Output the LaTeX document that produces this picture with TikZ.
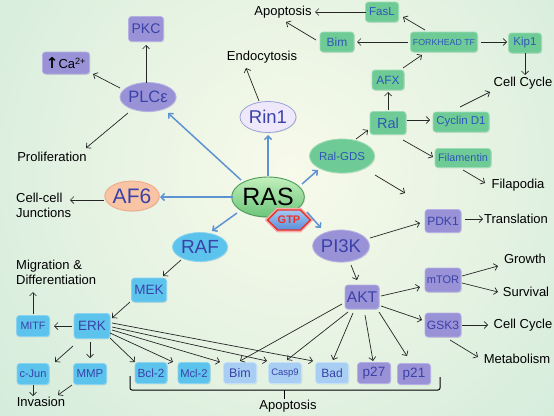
\documentclass[tikz,border=0pt]{standalone}
\usepackage{fontspec}
\setmainfont{Liberation Sans}
\newfontfamily\dvsfont{DejaVu Sans}
\usetikzlibrary{arrows.meta,shapes.geometric,shapes.symbols,calc,shadows}
\definecolor{bgin}{HTML}{F8FAEA}
\definecolor{bgout}{HTML}{B4DFCE}
\definecolor{pfill}{HTML}{9A92D6}
\definecolor{pline}{HTML}{B6B0E6}
\definecolor{txt}{HTML}{3A42A8}
\definecolor{cfill}{HTML}{5CC4EC}
\definecolor{cline}{HTML}{8AD4F0}
\definecolor{lfill}{HTML}{A8CEF3}
\definecolor{lline}{HTML}{C6E0F8}
\definecolor{gfill}{HTML}{6FCB95}
\definecolor{gline}{HTML}{9CDDB6}
\definecolor{gtxt}{HTML}{2E56B8}
\definecolor{rinfill}{HTML}{EEE8FA}
\definecolor{rinline}{HTML}{9AA2DC}
\definecolor{affill}{HTML}{F8C4A4}
\definecolor{afline}{HTML}{EFA888}
\definecolor{ablue}{HTML}{5E93D2}
\definecolor{rastop}{HTML}{C2EFBC}
\definecolor{rasbot}{HTML}{6CC57A}
\definecolor{rasline}{HTML}{4E9A5A}
\definecolor{gtptop}{HTML}{A4C8F2}
\definecolor{gtpbot}{HTML}{5A8FD8}
\definecolor{gtpred}{HTML}{E8322A}
\tikzset{
  fz/.style={font=\fontsize{#1}{#1}\selectfont},
  box/.style={rectangle, rounded corners=3pt, inner sep=0pt, line width=0.8pt, text=txt,
    drop shadow={opacity=0.22, shadow xshift=0.8pt, shadow yshift=-0.8pt}},
  pbox/.style={box, fill=pfill, draw=pline},
  cbox/.style={box, fill=cfill, draw=cline},
  lbox/.style={box, fill=lfill, draw=lline},
  gbox/.style={box, fill=gfill, draw=gline, text=gtxt},
  oval/.style={ellipse, inner sep=0pt, line width=0.8pt, text=txt,
    drop shadow={opacity=0.18, shadow xshift=0.8pt, shadow yshift=-0.8pt}},
  lab/.style={inner sep=0pt, text=black, fz=13},
  arr/.style={-{Straight Barb[length=3.5pt,width=7pt]}, line width=0.7pt, draw=black!85},
  barr/.style={-{Straight Barb[length=3.5pt,width=7pt]}, line width=1.5pt, draw=ablue},
}
\begin{document}
\begin{tikzpicture}[x=1pt,y=-1pt]
\useasboundingbox (0,0) rectangle (554,415);
\begin{scope}
\clip (0,0) rectangle (554,415);
\shade[inner color=bgin, outer color=bgout] (290,170) circle (720);
\end{scope}

% ---------- PLC branch ----------
\node[pbox, minimum width=35pt, minimum height=25pt, fz=14] (pkc) at (146,29) {PKC};
\node[pbox, minimum width=47pt, minimum height=22pt, fz=13, text=black] (ca) at (66,63) {{\dvsfont\bfseries\fontsize{15}{15}\selectfont ↑}Ca\textsuperscript{2+}};
\node[oval, fill=pfill, draw=pline, minimum width=56pt, minimum height=29pt, fz=16.5] (plc) at (148,97) {PLCε};
\node[lab] (prolif) at (52,157) {Proliferation};

% ---------- Rin1 / AF6 ----------
\node[oval, fill=rinfill, draw=rinline, minimum width=56pt, minimum height=31pt, fz=18.5] (rin) at (268,117) {Rin1};
\node[lab] (endo) at (262,57) {Endocytosis};
\node[oval, fill=affill, draw=afline, minimum width=52pt, minimum height=30pt, fz=21] (af6) at (132,196) {AF6};
\node[lab, anchor=west, align=left, font=\fontsize{13}{15}\selectfont] (junc) at (16,205) {Cell-cell\\Junctions};

% ---------- RAS ----------
\node[ellipse, inner sep=0pt, minimum width=69pt, minimum height=40pt, top color=rastop, bottom color=rasbot, draw=rasline, line width=0.9pt, fz=25, text=black,
  drop shadow={opacity=0.2, shadow xshift=1pt, shadow yshift=-1pt}] (ras) at (268,197) {RAS};
\node[signal, signal to=west and east, inner sep=0pt, minimum width=34pt, minimum height=20pt,
  top color=gtptop, bottom color=gtpbot, draw=gtpred, line width=1.4pt, text=gtpred, fz=11,
  preaction={draw=gtpred!40, line width=4.5pt}] (gtp) at (289,220) {\textbf{GTP}};

% ---------- Ral branch ----------
\node[oval, fill=gfill, draw=gline, text=gtxt, minimum width=56pt, minimum height=34pt, fz=11.5] (ralgds) at (342,156) {Ral-GDS};
\node[gbox, minimum width=36pt, minimum height=23pt, fz=14.5] (ral) at (388,123) {Ral};
\node[gbox, minimum width=32pt, minimum height=20pt, fz=12] (afx) at (388,80) {AFX};
\node[gbox, minimum width=67pt, minimum height=20pt, fz=8.8] (fork) at (444,42) {FORKHEAD TF};
\node[gbox, minimum width=34pt, minimum height=20pt, fz=12] (bimt) at (337,42) {Bim};
\node[gbox, minimum width=33pt, minimum height=20pt, fz=11.5] (fasl) at (382,12) {FasL};
\node[lab] (apopt) at (283,12) {Apoptosis};
\node[gbox, minimum width=33pt, minimum height=20pt, fz=11.5] (kip) at (525,43) {Kip1};
\node[lab] (cc1) at (523,83) {Cell Cycle};
\node[gbox, minimum width=56pt, minimum height=20pt, fz=11.5] (cyc) at (461,122) {Cyclin D1};
\node[gbox, minimum width=56pt, minimum height=19pt, fz=10.8] (fil) at (463,158) {Filamentin};
\node[lab] (filap) at (518,185) {Filapodia};
\coordinate (ralfree) at (405,193);

% ---------- PI3K branch ----------
\node[pbox, minimum width=36pt, minimum height=23pt, fz=12] (pdk) at (443,221) {PDK1};
\node[lab] (transl) at (516,219) {Translation};
\node[oval, fill=pfill, draw=pline, minimum width=56pt, minimum height=32pt, fz=18.5] (pi3k) at (341,246) {PI3K};
\node[pbox, minimum width=34pt, minimum height=24pt, fz=15.5] (akt) at (362,297) {AKT};
\node[pbox, minimum width=36pt, minimum height=24pt, fz=11] (mtor) at (443,280) {mTOR};
\node[lab] (growth) at (525,259) {Growth};
\node[lab] (surv) at (526,292) {Survival};
\node[pbox, minimum width=36pt, minimum height=24pt, fz=12] (gsk) at (443,325) {GSK3};
\node[lab] (cc2) at (523,325) {Cell Cycle};
\node[lab] (metab) at (517,359) {Metabolism};

% ---------- bottom row ----------
\node[cbox, minimum width=32pt, minimum height=21pt, fz=11.8] (bcl) at (151,373) {Bcl-2};
\node[cbox, minimum width=32pt, minimum height=21pt, fz=11.2] (mcl) at (194,373) {Mcl-2};
\node[lbox, minimum width=33pt, minimum height=21pt, fz=12.5] (bimb) at (240,373) {Bim};
\node[lbox, minimum width=33pt, minimum height=21pt, fz=9.5] (casp) at (285,373) {Casp9};
\node[lbox, minimum width=33pt, minimum height=21pt, fz=12] (bad) at (332,373) {Bad};
\node[pbox, minimum width=33pt, minimum height=21pt, fz=13.5] (p27) at (374,373) {p27};
\node[pbox, minimum width=33pt, minimum height=21pt, fz=13.5] (p21) at (414,374) {p21};
\node[lab] (apopb) at (288,406) {Apoptosis};

% ---------- RAF branch ----------
\node[oval, fill=cfill, draw=cline, minimum width=55pt, minimum height=29pt, fz=19] (raf) at (200,247) {RAF};
\node[cbox, minimum width=35pt, minimum height=24pt, fz=13.5] (mek) at (149,290) {MEK};
\node[cbox, minimum width=36pt, minimum height=25pt, fz=13.5] (erk) at (92,326) {ERK};
\node[cbox, minimum width=33pt, minimum height=21pt, fz=10.7] (mitf) at (33,326) {MITF};
\node[lab, anchor=west, align=left, font=\fontsize{13}{15}\selectfont] (migr) at (16,272) {Migration \&\\Differentiation};
\node[cbox, minimum width=32pt, minimum height=21pt, fz=11] (cjun) at (33,374) {c-Jun};
\node[cbox, minimum width=33pt, minimum height=21pt, fz=11.5] (mmp) at (90,374) {MMP};
\node[lab] (inv) at (41,402) {Invasion};

% ---------- bracket ----------
\draw[line width=1pt, rounded corners=2pt] (130,376) -- (130,390) -- (440,390) -- (440,377);
\draw[line width=1pt] (284,390) -- (284,399);

% ---------- blue arrows from RAS ----------
\draw[barr] ($(ras)+(-27,-17)$) -- ($(plc)+(20,16)$);
\draw[barr] ($(ras)+(0,-21)$) -- ($(rin)+(0,18)$);
\draw[barr] ($(ras)+(-35,0)$) -- ($(af6)+(28,1)$);
\draw[barr] ($(ras)+(-31,16)$) -- ($(raf)+(12,-16)$);
\draw[barr] ($(ras)+(34,-13)$) -- ($(ralgds)+(-24,14)$);
\draw[barr] ($(ras)+(39,15)$) -- ($(pi3k)+(-20,-18)$);

% ---------- thin arrows ----------
\draw[arr] ($(plc)+(-2,-14)$) -- ($(pkc)+(0,16)$);
\draw[arr] ($(plc)+(-28,-9)$) -- ($(ca)+(27,11)$);
\draw[arr] ($(plc)+(-20,16)$) -- ($(prolif)+(34,-9)$);
\draw[arr] ($(rin)+(-9,-16)$) -- ($(endo)+(-16,11)$);
\draw[arr] ($(af6)+(-28,4)$) -- ($(junc.west)+(54,-5)$);

\draw[arr] ($(ralgds)+(14,-17)$) -- ($(ral)+(-20,7)$);
\draw[arr] ($(ral)+(0,-13)$) -- ($(afx)+(0,12)$);
\draw[arr] ($(afx)+(15,-12)$) -- ($(fork)+(-22,13)$);
\draw[arr] ($(fork)+(-36,0)$) -- ($(bimt)+(20,0)$);
\draw[arr] ($(fork)+(-19,-12)$) -- ($(fasl)+(21,5)$);
\draw[arr] ($(fork)+(37,0)$) -- ($(kip)+(-18,-1)$);
\draw[arr] ($(bimt)+(-21,-2)$) -- ($(apopt)+(3,10)$);
\draw[arr] ($(fasl)+(-16,0)$) -- ($(apopt)+(32,0)$);
\draw[arr] ($(kip)+(0,10)$) -- ($(cc1)+(2,-8)$);
\draw[arr] ($(ral)+(19,-3)$) -- ($(cyc)+(-31,-2)$);
\draw[arr] ($(cyc)+(-1,-15)$) -- ($(cc1)+(-33,9)$);
\draw[arr] ($(ral)+(15,17)$) -- ($(fil)+(-30,-1)$);
\draw[arr] ($(fil)+(0,12)$) -- ($(filap)+(-33,-2)$);
\draw[arr] ($(ralgds)+(33,19)$) -- (ralfree);

\draw[arr] ($(pi3k)+(29,-8)$) -- ($(pdk)+(-23,2)$);
\draw[arr] ($(pi3k)+(10,19)$) -- ($(akt)+(-5,-17)$);
\draw[arr] ($(pdk)+(22,-2)$) -- ($(transl)+(-33,0)$);
\draw[arr] ($(akt)+(19,-1)$) -- ($(mtor)+(-23,7)$);
\draw[arr] ($(akt)+(19,9)$) -- ($(gsk)+(-21,-5)$);
\draw[arr] ($(mtor)+(19,-4)$) -- ($(growth)+(-27,7)$);
\draw[arr] ($(mtor)+(19,3)$) -- ($(surv)+(-28,0)$);
\draw[arr] ($(gsk)+(19,0)$) -- ($(cc2)+(-35,0)$);
\draw[arr] ($(gsk)+(7,15)$) -- ($(metab)+(-39,-2)$);
\draw[arr] ($(akt)+(-20,7)$) -- ($(bimb)+(0,-12)$);
\draw[arr] ($(akt)+(-14,15)$) -- ($(casp)+(2,-13)$);
\draw[arr] ($(akt)+(-9,16)$) -- ($(bad)+(1,-13)$);
\draw[arr] ($(akt)+(3,18)$) -- ($(p27)+(-1,-12)$);
\draw[arr] ($(akt)+(17,15)$) -- ($(p21)+(-7,-18)$);

\draw[arr] ($(raf)+(-19,13)$) -- ($(mek)+(14,-14)$);
\draw[arr] ($(mek)+(-19,12)$) -- ($(erk)+(20,-8)$);
\draw[arr] ($(erk)+(-20,0)$) -- ($(mitf)+(21,0)$);
\draw[arr] ($(mitf)+(0,-12)$) -- ($(migr.west)+(17,20)$);
\draw[arr] ($(erk)+(-19,20)$) -- ($(cjun)+(22,-12)$);
\draw[arr] ($(erk)+(-2,16)$) -- ($(mmp)+(0,-16)$);
\draw[arr] ($(cjun)+(0,11)$) -- ($(inv)+(-8,-6)$);
\draw[arr] ($(mmp)+(-18,11)$) -- ($(inv)+(17,-7)$);
\draw[arr] ($(erk)+(18,12)$) -- ($(bcl)+(-16,-11)$);
\draw[arr] ($(erk)+(18,7)$) -- ($(mcl)+(-21,-11)$);
\draw[arr] ($(erk)+(20,4)$) -- ($(bimb)+(-20,-11)$);
\draw[arr] ($(erk)+(20,1)$) -- ($(casp)+(-18,-12)$);
\draw[arr] ($(erk)+(20,-3)$) -- ($(bad)+(-19,-12)$);
\end{tikzpicture}
\end{document}
